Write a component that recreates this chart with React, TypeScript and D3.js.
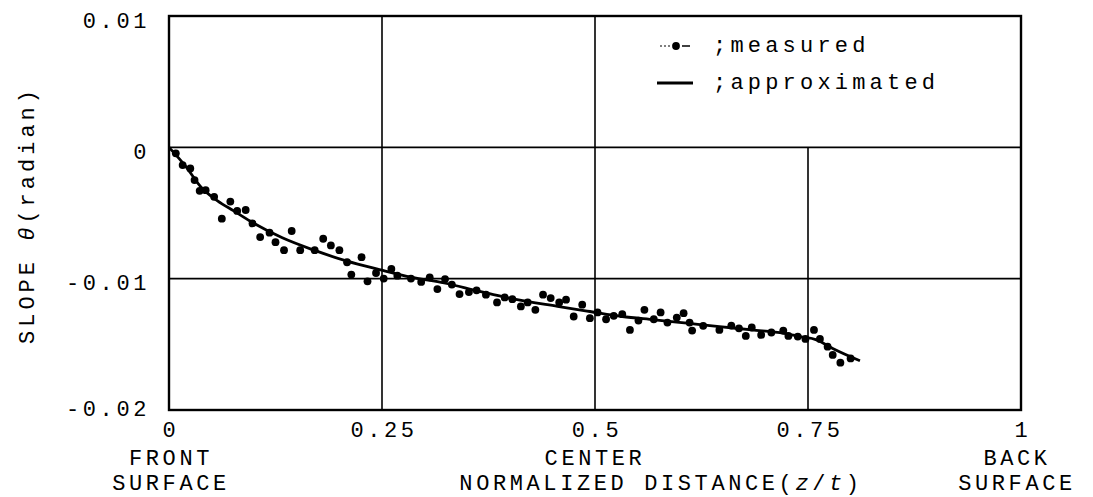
import React from 'react';
import * as d3 from 'd3';

// measured slope points: [normalized distance z/t, slope (radian)]
const measuredX = [
  0.008, 0.016, 0.025, 0.030, 0.036, 0.043, 0.053, 0.062, 0.072, 0.080,
  0.090, 0.098, 0.107, 0.118, 0.125, 0.135, 0.144, 0.154, 0.171, 0.181,
  0.190, 0.200, 0.209, 0.214, 0.226, 0.233, 0.243, 0.252, 0.261, 0.268,
  0.284, 0.296, 0.306, 0.315, 0.324, 0.332, 0.341, 0.352, 0.361, 0.372,
  0.385, 0.394, 0.403, 0.413, 0.421, 0.430, 0.439, 0.448, 0.458, 0.466,
  0.475, 0.485, 0.494, 0.503, 0.513, 0.522, 0.532, 0.541, 0.551, 0.558,
  0.569, 0.577, 0.585, 0.596, 0.604, 0.611, 0.614, 0.627, 0.646, 0.660,
  0.669, 0.677, 0.684, 0.695, 0.707, 0.721, 0.727, 0.738, 0.747, 0.757,
  0.764, 0.773, 0.779, 0.788, 0.800,
];
const measuredY = [
  -0.00046, -0.00135, -0.00161, -0.00249, -0.00331, -0.00326, -0.00377, -0.00543, -0.00413, -0.00484,
  -0.00477, -0.00579, -0.00683, -0.00650, -0.00722, -0.00783, -0.00637, -0.00783, -0.00783, -0.00696,
  -0.00747, -0.00783, -0.00875, -0.00969, -0.00836, -0.01020, -0.00957, -0.00999, -0.00926, -0.00977,
  -0.00999, -0.01025, -0.00990, -0.01079, -0.01003, -0.01045, -0.01117, -0.01102, -0.01089, -0.01122,
  -0.01181, -0.01143, -0.01156, -0.01211, -0.01181, -0.01237, -0.01122, -0.01148, -0.01181, -0.01160,
  -0.01288, -0.01198, -0.01301, -0.01257, -0.01309, -0.01283, -0.01270, -0.01390, -0.01319, -0.01237,
  -0.01309, -0.01257, -0.01334, -0.01296, -0.01263, -0.01334, -0.01395, -0.01359, -0.01390, -0.01357,
  -0.01378, -0.01436, -0.01372, -0.01428, -0.01410, -0.01395, -0.01436, -0.01441, -0.01459, -0.01390,
  -0.01459, -0.01518, -0.01581, -0.01640, -0.01607,
];

// approximated curve
const approxX = [
  0, 0.019, 0.038, 0.057, 0.076, 0.095, 0.133, 0.171, 0.209, 0.247,
  0.285, 0.323, 0.361, 0.399, 0.456, 0.494, 0.532, 0.570, 0.608, 0.646,
  0.684, 0.722, 0.741, 0.760, 0.779, 0.811,
];
const approxY = [
  0, -0.00140, -0.00306, -0.00408, -0.00484, -0.00561, -0.00689, -0.00785, -0.00867, -0.00931,
  -0.00990, -0.01033, -0.01091, -0.01148, -0.01211, -0.01250, -0.01288, -0.01313, -0.01339, -0.01365,
  -0.01390, -0.01416, -0.01441, -0.01466, -0.01531, -0.01625,
];

const xTicks = [0, 0.25, 0.5, 0.75, 1];
const xTickLabels = ['0', '0.25', '0.5', '0.75', '1'];
const yTicks = [0.01, 0, -0.01, -0.02];
const yTickLabels = ['0.01', '0', '-0.01', '-0.02'];

const W = 1093;
const H = 497;
const mono = '"Liberation Mono", "DejaVu Sans Mono", monospace';

export default function App() {
  const x = d3.scaleLinear().domain([0, 1]).range([169, 1021]);
  const y = d3.scaleLinear().domain([-0.02, 0.01]).range([410, 16]);

  const measured = measuredX.map((v, i) => [v, measuredY[i]] as [number, number]);
  const approx = approxX.map((v, i) => [v, approxY[i]] as [number, number]);

  const line = d3
    .line<[number, number]>()
    .x(d => x(d[0]))
    .y(d => y(d[1]))
    .curve(d3.curveMonotoneX);

  const [x0, x1] = x.range();
  const [yb, yt] = y.range();

  const txt = { fontFamily: mono, fontSize: 22, letterSpacing: 3.6, fill: '#000' };

  return (
    <div style={{ position: 'absolute', left: 0, top: 0 }}>
      <svg width={W} height={H} style={{ display: 'block', background: '#fff' }}>
        {/* vertical grid */}
        {[0.25, 0.5].map(t => (
          <line key={t} x1={x(t)} x2={x(t)} y1={yt} y2={yb} stroke="#000" strokeWidth={1.6} />
        ))}
        <line x1={x(0.75)} x2={x(0.75)} y1={y(0)} y2={yb} stroke="#000" strokeWidth={1.6} />
        {/* horizontal grid */}
        {[0, -0.01].map(t => (
          <line key={t} x1={x0} x2={x1} y1={y(t)} y2={y(t)} stroke="#000" strokeWidth={1.8} />
        ))}
        {/* frame */}
        <rect x={x0} y={yt} width={x1 - x0} height={yb - yt} fill="none" stroke="#000" strokeWidth={2.4} />

        {/* y tick labels */}
        {yTicks.map((t, i) => (
          <text
            key={t}
            x={150}
            y={y(t) + (t === -0.02 ? 0 : 6)}
            textAnchor="end"
            dominantBaseline="central"
            {...txt}
          >
            {yTickLabels[i]}
          </text>
        ))}
        {/* x tick labels */}
        {xTicks.map((t, i) => (
          <text key={t} x={x(t) + 2} y={431} textAnchor="middle" dominantBaseline="central" {...txt}>
            {xTickLabels[i]}
          </text>
        ))}

        {/* surface labels */}
        <g textAnchor="middle" dominantBaseline="central" {...txt}>
          <text x={x(0) + 2} y={459}>FRONT</text>
          <text x={x(0) + 2} y={484}>SURFACE</text>
          <text x={x(0.5)} y={459}>CENTER</text>
          <text x={x(0.5) + 66} y={484}>
            NORMALIZED DISTANCE(<tspan fontStyle="italic">z</tspan>/<tspan fontStyle="italic">t</tspan>)
          </text>
          <text x={x(1) - 4} y={459}>BACK</text>
          <text x={x(1) - 4} y={484}>SURFACE</text>
        </g>

        {/* y axis title */}
        <text
          transform={`translate(28,${(yt + yb) / 2 + 2}) rotate(-90)`}
          textAnchor="middle"
          dominantBaseline="central"
          {...txt}
          letterSpacing={4}
        >
          SLOPE <tspan fontStyle="italic">θ</tspan>(radian)
        </text>

        {/* approximated curve */}
        <path d={line(approx) || ''} fill="none" stroke="#000" strokeWidth={2.8} />
        {/* measured points */}
        {measured.map((d, i) => (
          <circle key={i} cx={x(d[0])} cy={y(d[1])} r={3.9} fill="#000" />
        ))}

        {/* legend */}
        <g>
          <line x1={660} x2={670} y1={46} y2={46} stroke="#000" strokeWidth={1.2} strokeDasharray="2,2" />
          <circle cx={676} cy={46} r={3.9} fill="#000" />
          <line x1={682} x2={690} y1={46} y2={46} stroke="#000" strokeWidth={1.5} />
          <text x={713} y={46} dominantBaseline="central" {...txt} letterSpacing={4.2}>
            ;measured
          </text>
          <line x1={657} x2={693} y1={83} y2={83} stroke="#000" strokeWidth={2.8} />
          <text x={713} y={83} dominantBaseline="central" {...txt} letterSpacing={4.2}>
            ;approximated
          </text>
        </g>
      </svg>
    </div>
  );
}
